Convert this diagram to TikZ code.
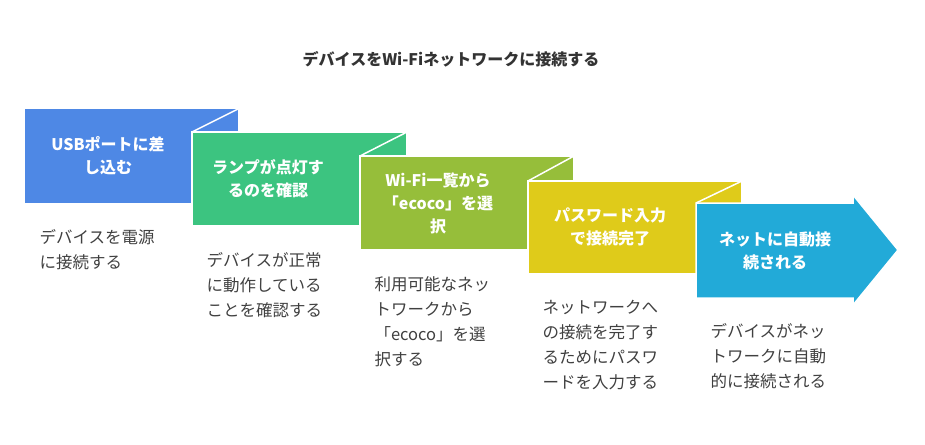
\documentclass[tikz,border=0pt]{standalone}
\usepackage{fontspec}
\setmainfont{Noto Sans CJK JP}
\begin{document}
\begin{tikzpicture}[x=1pt,y=-1pt,
  boxtxt/.style={text=white,font=\fontsize{16}{23}\selectfont\bfseries,align=center},
  desc/.style={text=black!75,font=\fontsize{16.5}{25}\selectfont,align=left,anchor=north west},
  sep/.style={white,line width=1.5pt}]
\useasboundingbox (0,0) rectangle (925,444);
\definecolor{c1}{HTML}{4E88E5}\definecolor{c2}{HTML}{3CC480}\definecolor{c3}{HTML}{96BE3A}
\definecolor{c4}{HTML}{DFCB1A}\definecolor{c5}{HTML}{22AAD8}
\node (title) at (451,59) {\fontsize{16}{18}\selectfont\bfseries\color{black!80}デバイスをWi-Fiネットワークに接続する};
% boxes
\fill[c1] (25,109) rectangle (238,203);
\fill[c2,draw=white,line width=1.5pt] (192,132) rectangle (407,226);
\draw[sep] (192,132) -- (238,109);
\fill[c3,draw=white,line width=1.5pt] (360,156) rectangle (574,250);
\draw[sep] (360,156) -- (407,132);
\fill[c4,draw=white,line width=1.5pt] (528,181) rectangle (742,274);
\draw[sep] (528,181) -- (574,156);
\fill[c5,draw=white,line width=1.5pt] (696,203) -- (853,203) -- (853,195) -- (898,250) -- (853,305) -- (853,298) -- (696,298) -- cycle;
\draw[sep] (696,203) -- (742,181);
\node[boxtxt] (b1) at (108,156) {USBポートに差\\し込む};
\node[boxtxt] (b2) at (268,179) {ランプが点灯す\\るのを確認};
\node[boxtxt] (b3) at (438,203) {Wi-Fi一覧から\\「ecoco」を選\\択};
\node[boxtxt] (b4) at (610,227) {パスワード入力\\で接続完了};
\node[boxtxt] (b5) at (775,251) {ネットに自動接\\続される};
\node[desc] (d1) at (36,226) {デバイスを電源\\に接続する};
\node[desc] (d2) at (203,249) {デバイスが正常\\に動作している\\ことを確認する};
\node[desc] (d3) at (371,273) {利用可能なネッ\\トワークから\\「ecoco」を選\\択する};
\node[desc] (d4) at (539,297) {ネットワークへ\\の接続を完了す\\るためにパスワ\\ードを入力する};
\node[desc] (d5) at (707,320) {デバイスがネッ\\トワークに自動\\的に接続される};
\end{tikzpicture}
\end{document}
